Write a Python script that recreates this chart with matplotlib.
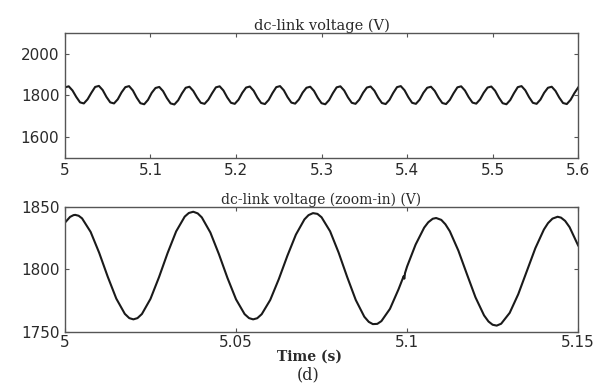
import matplotlib
matplotlib.use("Agg")
import matplotlib.pyplot as plt
import numpy as np

# top panel: dc-link voltage over 5.0 - 5.6 s, 8 samples per ripple period
top_start, top_end = 5.0, 5.6
top_volts = [
    1838, 1843, 1823, 1792, 1766, 1761, 1781, 1812,
    1840, 1845, 1825, 1792, 1766, 1761, 1781, 1814,
    1839, 1844, 1823, 1789, 1762, 1757, 1778, 1812,
    1835, 1840, 1820, 1787, 1761, 1756, 1776, 1809,
    1836, 1841, 1821, 1790, 1764, 1759, 1779, 1810,
    1838, 1843, 1823, 1790, 1764, 1759, 1779, 1812,
    1837, 1842, 1822, 1789, 1763, 1758, 1778, 1811,
    1839, 1844, 1824, 1791, 1765, 1760, 1780, 1813,
    1836, 1841, 1821, 1788, 1762, 1757, 1777, 1810,
    1838, 1843, 1823, 1790, 1764, 1759, 1779, 1812,
    1837, 1842, 1822, 1789, 1763, 1758, 1778, 1811,
    1839, 1844, 1824, 1791, 1764, 1759, 1779, 1812,
    1836, 1841, 1821, 1789, 1763, 1758, 1778, 1810,
    1838, 1843, 1823, 1791, 1765, 1760, 1780, 1812,
    1837, 1842, 1822, 1789, 1762, 1757, 1777, 1810,
    1839, 1844, 1824, 1791, 1764, 1759, 1779, 1812,
    1836, 1841, 1821, 1789, 1763, 1758, 1778, 1810,
    1837,
]

# bottom panel: zoom-in over 5.0 - 5.15 s
zoom_time = [
    5.0000, 5.0015, 5.0025, 5.0030, 5.0040, 5.0050, 5.0075, 5.0100, 5.0125,
    5.0150, 5.0175, 5.0188, 5.0200, 5.0212, 5.0225, 5.0250, 5.0275, 5.0300,
    5.0325, 5.0350, 5.0362, 5.0375, 5.0388, 5.0400, 5.0425, 5.0450, 5.0475,
    5.0500, 5.0525, 5.0538, 5.0550, 5.0562, 5.0575, 5.0600, 5.0625, 5.0650,
    5.0675, 5.0700, 5.0712, 5.0725, 5.0738, 5.0750, 5.0775, 5.0800, 5.0825,
    5.0850, 5.0875, 5.0888, 5.0900, 5.0913, 5.0925, 5.0950, 5.0975, 5.0990,
    5.0992, 5.0994, 5.1000, 5.1025, 5.1050, 5.1062, 5.1075, 5.1085, 5.1100,
    5.1112, 5.1125, 5.1150, 5.1175, 5.1200, 5.1225, 5.1238, 5.1250, 5.1262,
    5.1275, 5.1300, 5.1325, 5.1350, 5.1375, 5.1400, 5.1412, 5.1425, 5.1440,
    5.1450, 5.1462, 5.1475, 5.1500,
]
zoom_volts = [
    1837.3, 1841.9, 1843.3, 1843.5, 1842.8, 1840.7, 1829.9, 1813.2, 1794.1,
    1776.6, 1764.4, 1761.0, 1760.0, 1761.0, 1764.3, 1776.4, 1793.8, 1813.0,
    1830.3, 1842.1, 1845.0, 1846.0, 1844.7, 1841.5, 1829.4, 1812.1, 1793.1,
    1776.0, 1764.2, 1761.0, 1760.0, 1760.9, 1764.1, 1775.5, 1792.1, 1810.7,
    1827.7, 1839.9, 1843.3, 1844.9, 1844.3, 1841.6, 1830.4, 1813.3, 1793.8,
    1775.5, 1762.1, 1758.0, 1756.2, 1756.4, 1758.6, 1768.4, 1784.0, 1794.5,
    1792.5, 1797.0, 1802.2, 1819.8, 1833.3, 1837.6, 1840.4, 1841.0, 1839.5,
    1836.0, 1830.4, 1814.9, 1796.1, 1777.6, 1763.2, 1758.3, 1755.7, 1755.0,
    1756.5, 1765.2, 1780.1, 1798.5, 1816.9, 1831.8, 1836.9, 1840.5, 1842.0,
    1841.3, 1838.7, 1833.7, 1819.1,
]

top_xticks = [5, 5.1, 5.2, 5.3, 5.4, 5.5, 5.6]
top_xlabels = ["5", "5.1", "5.2", "5.3", "5.4", "5.5", "5.6"]
top_yticks = [1600, 1800, 2000]
zoom_xticks = [5, 5.05, 5.1, 5.15]
zoom_xlabels = ["5", "5.05", "5.1", "5.15"]
zoom_yticks = [1750, 1800, 1850]

top_time = np.linspace(top_start, top_end, len(top_volts))

line_col = "#1a1a1a"
frame_col = "#555555"
label_col = "#2a2a2a"
sans = "DejaVu Sans"
serif = "DejaVu Serif"

fig = plt.figure(figsize=(5.96, 3.85), dpi=100)
ax1 = fig.add_axes([0.109, 0.590, 0.861, 0.325])
ax2 = fig.add_axes([0.109, 0.138, 0.861, 0.325])


def style_axes(ax):
    for sp in ax.spines.values():
        sp.set_color(frame_col)
        sp.set_linewidth(1.0)
    ax.tick_params(direction="in", length=3, width=0.8, color=frame_col,
                   top=True, right=True, labelsize=11, labelcolor=label_col, pad=4)
    for lab in ax.get_xticklabels() + ax.get_yticklabels():
        lab.set_family(sans)


ax1.plot(top_time, top_volts, color=line_col, lw=1.5)
ax1.set_xlim(5.0, 5.6)
ax1.set_ylim(1500, 2100)
ax1.set_xticks(top_xticks)
ax1.set_xticklabels(top_xlabels)
ax1.set_yticks(top_yticks)
style_axes(ax1)
ax1.set_title("dc-link voltage (V)", family=serif, fontsize=10.5, color=label_col, pad=2)

ax2.plot(zoom_time, zoom_volts, color=line_col, lw=1.5)
ax2.set_xlim(5.0, 5.15)
ax2.set_ylim(1750, 1850)
ax2.set_xticks(zoom_xticks)
ax2.set_xticklabels(zoom_xlabels)
ax2.set_yticks(zoom_yticks)
style_axes(ax2)
ax2.tick_params(axis="x", pad=2)
ax2.set_title("dc-link voltage (zoom-in) (V)", family=serif, fontsize=10, color=label_col, pad=2)

fig.text(0.519, 0.073, "Time (s)", family=serif, fontsize=10, color=label_col,
         ha="center", va="center", fontweight="bold")
fig.text(0.517, 0.025, "(d)", family=serif, fontsize=11.5, color=label_col,
         ha="center", va="center")

plt.savefig("out.png", dpi=100)
